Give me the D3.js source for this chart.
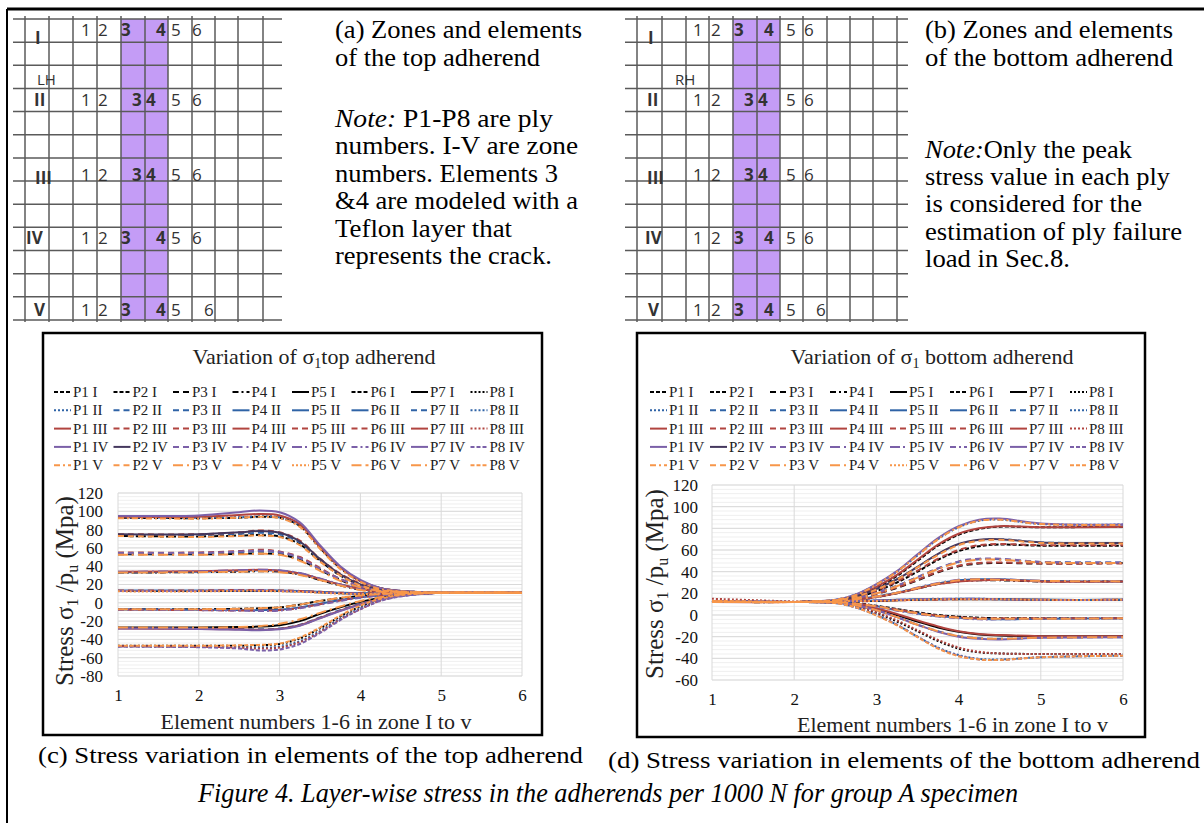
<!DOCTYPE html>
<html lang="en">
<head>
<meta charset="UTF-8">
<script src="https://cdn.jsdelivr.net/npm/d3@7"></script>
<title>Figure 4. Layer-wise stress in the adherends</title>
<style>
  body { margin: 0; background: #fff; }
  svg { display: block; font-family: "Liberation Serif", "Times New Roman", serif; }
  .gridlbl { font-family: "Open Sans", "Noto Sans", sans-serif; fill: #333; }
</style>
</head>
<body>
<svg id="fig" width="1204" height="823"></svg>
<script>
// ---- data ----
const plies = ["P1", "P2", "P3", "P4", "P5", "P6", "P7", "P8"];
const zones = ["I", "II", "III", "IV", "V"];
const elements = [1, 2, 3, 4, 5, 6];
const xElem = [1, 2, 2.5, 2.75, 3, 3.25, 3.5, 3.75, 4, 4.25, 4.5, 5, 6];
const yTicksTop = [120, 100, 80, 60, 40, 20, 0, -20, -40, -60, -80];
const yTicksBot = [120, 100, 80, 60, 40, 20, 0, -20, -40, -60];

// (c) top adherend, one array per zone, one row per ply
const topI = [
  [93, 92.5, 93, 94, 93, 84, 60, 38, 24, 16, 13, 11, 11],
  [73, 72.5, 73.5, 74, 72.5, 64, 46, 30, 20, 14, 12, 11, 11],
  [53, 53, 53.5, 54, 53, 47, 36, 25, 17, 13, 12, 11, 11],
  [33, 33.5, 34, 34.5, 34, 31, 25, 19, 14.5, 12, 11, 11, 11],
  [13, 13, 13, 13, 13, 12.5, 11.5, 10.5, 10, 10, 10.5, 11, 11],
  [-7, -7, -6.5, -6, -5, -2, 2, 5, 7.5, 9, 10, 11, 11],
  [-27, -27, -26.5, -26, -24.5, -20, -12, -5, 1, 5.5, 8.5, 11, 11],
  [-47, -47, -47, -46.5, -45, -39, -28, -15, -4, 4, 8, 11, 11]
];
const topII = [
  [93.5, 93, 93.5, 94.5, 93.5, 85, 61, 39, 24, 16, 13, 11, 11],
  [74, 74, 75.5, 76.5, 75, 66, 47, 31, 20, 14, 12, 11, 11],
  [54, 54, 55.5, 56.5, 55, 49, 37, 26, 18, 13, 12, 11, 11],
  [33.5, 34, 35, 35.5, 35, 32, 26, 20, 15, 12, 11, 11, 11],
  [13.5, 13.5, 13.5, 13.5, 13.5, 13, 12, 11, 10.5, 10.5, 10.5, 11, 11],
  [-7, -7.5, -8, -8, -7.5, -5, -1, 3, 6, 8, 10, 11, 11],
  [-27.5, -28, -28.5, -29, -28, -24, -16, -8, -1, 4, 8, 11, 11],
  [-47.5, -48, -48.5, -49, -48, -42, -31, -17, -6, 3, 7.5, 11, 11]
];
const topIII = [
  [94, 94, 96, 97, 95.5, 86, 61, 39, 24, 16, 13, 11, 11],
  [75, 75, 77, 79, 77, 68, 48, 32, 21, 14, 12, 11, 11],
  [55, 55, 56.5, 58, 56, 50, 38, 26, 18, 13, 12, 11, 11],
  [34, 34.5, 35.5, 36, 35, 32, 26, 20, 15, 12, 11, 11, 11],
  [13.5, 13.5, 14, 14, 13.5, 13, 12, 11, 10.5, 10.5, 11, 11, 11],
  [-7.5, -8, -8.5, -8.5, -8, -5.5, -1.5, 2.5, 6, 8, 10, 11, 11],
  [-28, -28.5, -29, -29.5, -28.5, -24.5, -16.5, -8.5, -1.5, 4, 8, 11, 11],
  [-47.5, -48, -49, -50, -49, -43, -32, -18, -7, 2.5, 7.5, 11, 11]
];
const topIV = [
  [95, 95.5, 99, 101, 99, 88, 63, 40, 25, 16, 13, 11, 11],
  [75, 75, 77, 78.5, 76.5, 67, 48, 31, 20, 14, 12, 11, 11],
  [54.5, 54.5, 56, 57, 55.5, 49, 37, 26, 18, 13, 12, 11, 11],
  [34, 34.5, 35.5, 36, 35.5, 32.5, 26.5, 20, 15, 12, 11, 11, 11],
  [13, 13, 13.5, 13.5, 13, 12.5, 11.5, 10.5, 10, 10, 10.5, 11, 11],
  [-7.5, -8, -8.5, -9, -8.5, -6, -2, 2, 5.5, 8, 10, 11, 11],
  [-28, -28.5, -29.5, -30, -29, -25, -17, -9, -2, 3.5, 7.5, 11, 11],
  [-48, -48.5, -50, -52, -51, -45, -33, -19, -7, 2, 7, 11, 11]
];
const topV = [
  [92.5, 92, 93, 94, 92.5, 83, 59, 37, 23, 15, 12.5, 11, 11],
  [73, 72, 73, 73.5, 72, 63, 45, 30, 19, 13.5, 12, 11, 11],
  [52.5, 52.5, 53, 53.5, 52.5, 46, 35, 24, 17, 13, 12, 11, 11],
  [33, 33.5, 34, 34.5, 33.5, 30.5, 25, 19, 14, 12, 11, 11, 11],
  [12.5, 12.5, 13, 13, 12.5, 12, 11, 10, 9.5, 10, 10.5, 11, 11],
  [-7, -7, -6.5, -6, -5, -2, 2, 5.5, 8, 9.5, 10.5, 11, 11],
  [-27, -27, -26.5, -25.5, -23, -18, -11, -4, 2, 6, 9, 11, 11],
  [-47, -47, -46.5, -46, -44.5, -38, -27, -14, -3, 4.5, 8.5, 11, 11]
];

// (d) bottom adherend
const botI = [
  [12.5, 12, 13.5, 17, 25, 36, 50, 64, 74, 79.5, 81.5, 81, 81.5],
  [12.5, 12, 13.5, 16, 22, 30, 40, 51, 59, 63.5, 65, 64, 64],
  [12.5, 12, 13, 15, 19.5, 25, 32, 39.5, 45, 47.5, 48, 47.5, 48],
  [12, 12, 13, 14, 16.5, 20, 24.5, 28.5, 31, 32, 32, 31, 31],
  [12, 12, 12.5, 13, 13, 13.5, 14, 14.5, 14.5, 14.5, 14.5, 14, 14],
  [12, 12, 12, 11, 8.5, 5.5, 2.5, 0, -1.5, -2.5, -3, -3, -3],
  [12, 12, 11.5, 9.5, 5.5, 0, -6, -11.5, -15.5, -18, -19, -19.5, -19.5],
  [12.5, 12, 11.5, 8, 2, -6, -15, -24, -31, -34.5, -35.5, -36, -36]
];
const botII = [
  [13, 12, 14, 19, 28, 40, 55, 70, 81, 87, 88, 84, 83.5],
  [13, 12, 13.5, 17, 24, 33, 44, 56, 65, 69, 70, 67, 66.5],
  [13, 12, 13.5, 15.5, 20.5, 27, 35, 43, 49, 51.5, 51.5, 49, 48.5],
  [12.5, 12, 13, 14.5, 17, 20.5, 25, 29, 32, 33, 33, 31.5, 31],
  [12.5, 12, 12.5, 13, 13.5, 14, 14.5, 14.5, 15, 15, 14.5, 14, 14],
  [12.5, 12, 12, 10.5, 8, 4.5, 1.5, -1, -2.5, -3.5, -4, -3.5, -3],
  [12.5, 12, 11.5, 9, 4.5, -2, -9, -15, -19.5, -21.5, -22, -21, -20.5],
  [13, 12, 11, 7, 0, -9, -20, -30, -37, -40.5, -41, -39, -37.5]
];
const botIII = [
  [12.5, 12, 13.5, 17.5, 26, 37, 51, 65, 75, 80, 82, 81, 81.5],
  [12.5, 12, 13.5, 16.5, 22.5, 31, 41, 52, 60, 64.5, 65.5, 64.5, 64.5],
  [12.5, 12, 13, 15, 19.5, 25.5, 32.5, 40, 45.5, 48, 48.5, 47.5, 47.5],
  [12, 12, 13, 14, 16.5, 20, 24.5, 28.5, 31, 32, 32.5, 31, 31],
  [12, 12, 12.5, 12.5, 13, 13.5, 14, 14, 14.5, 14.5, 14.5, 14, 14],
  [12, 12, 12, 10.5, 8, 5, 2, -0.5, -2, -3, -3, -3, -3],
  [12, 12, 11.5, 9.5, 6, 1, -5, -10.5, -15, -17.5, -18.5, -19.5, -19.5],
  [15, 12.5, 11.5, 8.5, 2.5, -5, -14, -23, -30, -34, -35.5, -36, -36]
];
const botIV = [
  [13, 12, 14, 19, 28.5, 40.5, 56, 71, 82, 88, 89, 84.5, 83.5],
  [13, 12, 13.5, 17, 24, 33, 44.5, 56.5, 65.5, 69.5, 70, 67, 66.5],
  [13, 12, 13.5, 15.5, 20.5, 27, 35, 43, 49.5, 52, 52, 49, 48.5],
  [12.5, 12, 13, 14.5, 17, 20.5, 25.5, 29.5, 32.5, 33, 33, 31.5, 31],
  [12.5, 12, 12.5, 13, 13.5, 14, 14.5, 15, 15, 15, 14.5, 14, 14],
  [12.5, 12, 12, 10.5, 7.5, 4, 1, -1.5, -3, -4, -4, -3.5, -3],
  [12.5, 12, 11.5, 9, 4.5, -2, -9, -15.5, -20, -22, -22.5, -21, -20.5],
  [13, 12, 11, 7, 0, -9, -20, -30.5, -37.5, -41, -41.5, -39, -37.5]
];
const botV = [
  [12.5, 12, 14, 18.5, 28, 40, 55, 70, 81, 87, 88, 84, 83],
  [12.5, 12, 13.5, 17, 23.5, 32.5, 44, 55.5, 64.5, 68.5, 69.5, 66.5, 66],
  [12.5, 12, 13.5, 15.5, 20, 26.5, 34.5, 42.5, 48.5, 51, 51, 48.5, 48],
  [12, 12, 13, 14.5, 17, 20.5, 25, 29, 32, 33, 32.5, 31.5, 31],
  [12, 12, 12.5, 13, 13, 13.5, 14, 14.5, 14.5, 14.5, 14.5, 14, 14],
  [12, 12, 12, 10.5, 8, 4.5, 1.5, -1, -2.5, -3.5, -3.5, -3.5, -3],
  [12, 12, 11.5, 9, 4.5, -2, -9, -15, -19.5, -21.5, -22, -21, -20.5],
  [13, 12, 11, 7, -0.5, -9.5, -20.5, -31, -38, -41, -41.5, -39, -37.5]
];

// line styles (as in the Excel legend)
const zoneColors = ["#000000", "#2f63a6", "#b1443f", "#7b60a8", "#f7964a"];
const zoneDash = [
  ["sysDash", "sysDash", "dash", "dashDot", "solid", "sysDash", "solid", "sysDot"],
  ["sysDot", "dash", "dash", "solid", "solid", "solid", "dash", "sysDot"],
  ["solid", "dash", "dash", "solid", "dash", "dash", "solid", "sysDot"],
  ["solid", "solid", "dash", "lgDashDot", "lgDashDotDot", "dashDot", "solid", "sysDash"],
  ["dashDot", "dash", "lgDashDot", "lgDashDot", "sysDot", "lgDash", "lgDashDot", "sysDash"]
];
const dashes = {
  solid: null, sysDash: "4,2", dash: "6,4", dashDot: "6,3,2,3", lgDash: "10,4",
  lgDashDot: "10,4,2,4", lgDashDotDot: "10,3,2,3,2,3", sysDot: "2,2"
};

const svg = d3.select("#fig");

function colorOf(z, p) {
  if (z === 3 && p === 1) return "#45385e";
  return zoneColors[z];
}

// ---- outer frame ----
svg.append("line").attr("x1", 7).attr("x2", 1204).attr("y1", 9).attr("y2", 9)
  .attr("stroke", "#000").attr("stroke-width", 3);
svg.append("line").attr("x1", 7).attr("x2", 7).attr("y1", 9).attr("y2", 823)
  .attr("stroke", "#000").attr("stroke-width", 2);

// ---- zone grids (a) and (b) ----
function drawGrid(cfg) {
  const g = svg.append("g");
  const rowYs = d3.range(14).map(i => 19 + i * 23.15);
  g.append("rect").attr("x", cfg.purple[0]).attr("y", 19)
    .attr("width", cfg.purple[1] - cfg.purple[0]).attr("height", 301)
    .attr("fill", "#c49cf6");
  g.selectAll("line.h").data(rowYs).join("line")
    .attr("x1", cfg.x0).attr("x2", cfg.x1).attr("y1", d => d).attr("y2", d => d)
    .attr("stroke", "#5a5a5a").attr("stroke-width", 1.5);
  g.selectAll("line.v").data(cfg.cols).join("line")
    .attr("x1", d => d).attr("x2", d => d).attr("y1", 16).attr("y2", 322)
    .attr("stroke", "#5a5a5a").attr("stroke-width", 1.5);

  cfg.rows.forEach(r => {
    g.append("text").attr("class", "gridlbl").attr("x", r.rx).attr("y", r.ry)
      .attr("font-size", 17).attr("font-weight", 700).attr("fill", "#222").text(r.roman);
    r.xs.forEach((x, i) => {
      g.append("text").attr("class", "gridlbl").attr("x", x).attr("y", r.ny)
        .attr("font-size", 17).attr("font-weight", (i === 2 || i === 3) ? 700 : 400)
        .text(elements[i]);
    });
  });
  g.append("text").attr("class", "gridlbl").attr("x", cfg.hand[1]).attr("y", 85)
    .attr("font-size", 15).text(cfg.hand[0]);
}

const numA1 = [81, 98, 121, 156, 171, 192], numA2 = [81, 98, 132, 146, 171, 192];
drawGrid({
  x0: 13, x1: 282, purple: [121, 168],
  cols: [25, 49, 73, 97, 121, 145, 168, 192, 215, 238, 263],
  hand: ["LH", 37],
  rows: [
    { roman: "I", rx: 35, ry: 44, ny: 36, xs: numA1 },
    { roman: "II", rx: 34, ry: 106, ny: 106, xs: numA2 },
    { roman: "III", rx: 35, ry: 184, ny: 181, xs: numA2 },
    { roman: "IV", rx: 26, ry: 244, ny: 244, xs: numA1 },
    { roman: "V", rx: 34, ry: 316, ny: 316, xs: [81, 98, 121, 156, 171, 204] }
  ]
});
const numB1 = [693, 711, 734, 764, 786, 804], numB2 = [693, 711, 744, 758, 786, 804];
drawGrid({
  x0: 625, x1: 908, purple: [733, 780],
  cols: [637, 662, 686, 709, 733, 757, 780, 803, 827, 850, 873, 897],
  hand: ["RH", 675],
  rows: [
    { roman: "I", rx: 648, ry: 44, ny: 36, xs: numB1 },
    { roman: "II", rx: 647, ry: 106, ny: 106, xs: numB2 },
    { roman: "III", rx: 647, ry: 184, ny: 181, xs: numB2 },
    { roman: "IV", rx: 645, ry: 244, ny: 244, xs: numB1 },
    { roman: "V", rx: 648, ry: 316, ny: 316, xs: [693, 711, 734, 764, 786, 816] }
  ]
});

// ---- text blocks next to the grids ----
function textBlock(x, lines) {
  lines.forEach(l => {
    const t = svg.append("text").attr("x", x).attr("y", l[1]).attr("font-size", 25)
      .attr("textLength", l[2]).attr("lengthAdjust", "spacingAndGlyphs");
    if (l[3]) t.append("tspan").attr("font-style", "italic").text(l[3]);
    t.append("tspan").text(l[0]);
  });
}
textBlock(335, [
  ["(a) Zones and elements", 38, 247],
  ["of the top adherend", 66, 205],
  [" P1-P8 are ply", 127, 218, "Note:"],
  ["numbers. I-V are zone", 154, 243],
  ["numbers. Elements 3", 182, 223],
  ["&4 are modeled with a", 209, 243],
  ["Teflon layer that", 237, 177],
  ["represents the crack.", 264, 217]
]);
textBlock(925, [
  ["(b) Zones and elements", 38, 248],
  ["of the bottom adherend", 66, 248],
  ["Only the peak", 158, 207, "Note:"],
  ["stress value in each ply", 185, 245],
  ["is considered for the", 212, 217],
  ["estimation of ply failure", 240, 257],
  ["load in Sec.8.", 267, 145]
]);

// ---- charts (c) and (d) ----
function drawChart(cfg, zoneData, yTicks) {
  const g = svg.append("g");
  g.append("rect").attr("x", cfg.box[0]).attr("y", cfg.box[1])
    .attr("width", cfg.box[2]).attr("height", cfg.box[3])
    .attr("fill", "#fff").attr("stroke", "#000").attr("stroke-width", 2.5);

  const x = d3.scaleLinear().domain([1, 6]).range([cfg.left, cfg.right]);
  const y = d3.scaleLinear().domain([cfg.yMin, cfg.yMax]).range([cfg.bottom, cfg.top]);

  // minor + major gridlines
  g.selectAll("line.minor").data(d3.range(cfg.yMin, cfg.yMax + 0.01, 4)).join("line")
    .attr("x1", cfg.left).attr("x2", cfg.right)
    .attr("y1", d => y(d)).attr("y2", d => y(d))
    .attr("stroke", "#efefef").attr("stroke-width", 1);
  g.selectAll("line.major").data(yTicks).join("line")
    .attr("x1", cfg.left).attr("x2", cfg.right)
    .attr("y1", d => y(d)).attr("y2", d => y(d))
    .attr("stroke", "#d9d9d9").attr("stroke-width", 1);
  g.selectAll("line.vg").data(elements).join("line")
    .attr("x1", d => x(d)).attr("x2", d => x(d))
    .attr("y1", cfg.top).attr("y2", cfg.bottom)
    .attr("stroke", "#d9d9d9").attr("stroke-width", 1);

  // axes
  const ya = g.append("g").attr("transform", `translate(${cfg.left},0)`)
    .call(d3.axisLeft(y).tickValues(yTicks).tickSize(0).tickPadding(cfg.left - cfg.yLabelX)
      .tickFormat(d => String(d)));
  const xa = g.append("g").attr("transform", `translate(0,${cfg.bottom})`)
    .call(d3.axisBottom(x).tickValues(elements).tickSize(0).tickPadding(cfg.xPad)
      .tickFormat(d => String(d)));
  [ya, xa].forEach(a => {
    a.select(".domain").remove();
    a.selectAll("text").attr("font-family", "Liberation Serif, serif")
      .attr("font-size", 17).attr("fill", "#111");
  });

  // series
  const clipId = "clip" + cfg.id;
  svg.append("clipPath").attr("id", clipId).append("rect")
    .attr("x", cfg.left - 2).attr("y", cfg.top - 6)
    .attr("width", cfg.right - cfg.left + 4).attr("height", cfg.bottom - cfg.top + 8);
  const line = d3.line().x((d, i) => x(xElem[i])).y(d => y(d))
    .curve(d3.curveCatmullRom.alpha(0.5));
  const lines = g.append("g").attr("clip-path", `url(#${clipId})`);
  zoneData.forEach((plyRows, z) => {
    plyRows.forEach((vals, p) => {
      lines.append("path").attr("d", line(vals)).attr("fill", "none")
        .attr("stroke", colorOf(z, p)).attr("stroke-width", 2)
        .attr("stroke-dasharray", dashes[zoneDash[z][p]]);
    });
  });

  // legend
  const leg = g.append("g");
  zones.forEach((zn, z) => {
    plies.forEach((pl, p) => {
      const lx = cfg.legX + p * cfg.legStep, ly = 392 + z * 18.3;
      leg.append("line").attr("x1", lx).attr("x2", lx + 17).attr("y1", ly).attr("y2", ly)
        .attr("stroke", colorOf(z, p)).attr("stroke-width", 2)
        .attr("stroke-dasharray", dashes[zoneDash[z][p]]);
      leg.append("text").attr("x", lx + 19).attr("y", ly + 5).attr("font-size", 15)
        .attr("fill", "#222").text(pl + " " + zn);
    });
  });

  // title
  const t = g.append("text").attr("x", cfg.titleX).attr("y", 364)
    .attr("text-anchor", "middle").attr("font-size", 22).attr("fill", "#222");
  t.append("tspan").text("Variation of  σ");
  t.append("tspan").attr("font-size", 14).attr("dy", 4).text("1");
  t.append("tspan").attr("dy", -4).text(cfg.titleRest);

  // axis titles
  g.append("text").attr("x", (cfg.left + cfg.right) / 2 + cfg.xTitleShift).attr("y", cfg.xTitleY)
    .attr("text-anchor", "middle").attr("font-size", 22).attr("fill", "#222")
    .text("Element numbers 1-6 in zone I to v");
  const yt = g.append("text")
    .attr("transform", `translate(${cfg.yTitleX},${cfg.yTitleY}) rotate(-90)`)
    .attr("text-anchor", "middle").attr("font-size", 25).attr("fill", "#222");
  yt.append("tspan").text("Stress σ");
  yt.append("tspan").attr("font-size", 16).attr("dy", 5).text("1");
  yt.append("tspan").attr("dy", -5).text(" /p");
  yt.append("tspan").attr("font-size", 16).attr("dy", 5).text("u");
  yt.append("tspan").attr("dy", -5).text("  (Mpa)");
}

drawChart({
  id: "c", box: [43, 333, 499, 402],
  left: 118, right: 522, top: 493, bottom: 676, yMin: -80, yMax: 120,
  yLabelX: 103, xPad: 13, legX: 54, legStep: 59.5,
  titleX: 314, titleRest: "top adherend",
  xTitleY: 729, xTitleShift: -4, yTitleX: 73, yTitleY: 591
}, [topI, topII, topIII, topIV, topV], yTicksTop);

drawChart({
  id: "d", box: [637, 333, 508, 404],
  left: 712, right: 1123, top: 485, bottom: 680, yMin: -60, yMax: 120,
  yLabelX: 698, xPad: 13, legX: 650, legStep: 60,
  titleX: 932, titleRest: " bottom adherend",
  xTitleY: 732, xTitleShift: 35, yTitleX: 663, yTitleY: 584
}, [botI, botII, botIII, botIV, botV], yTicksBot);

// ---- captions ----
svg.append("text").attr("x", 38).attr("y", 763).attr("font-size", 24)
  .attr("textLength", 545).attr("lengthAdjust", "spacingAndGlyphs")
  .text("(c) Stress variation in elements of the top adherend");
svg.append("text").attr("x", 608).attr("y", 768).attr("font-size", 24)
  .attr("textLength", 592).attr("lengthAdjust", "spacingAndGlyphs")
  .text("(d) Stress variation in elements of the bottom adherend");
svg.append("text").attr("x", 198).attr("y", 802).attr("font-size", 27)
  .attr("font-style", "italic")
  .attr("textLength", 820).attr("lengthAdjust", "spacingAndGlyphs")
  .text("Figure 4. Layer-wise stress in the adherends per 1000 N for group A specimen");
</script>
</body>
</html>
